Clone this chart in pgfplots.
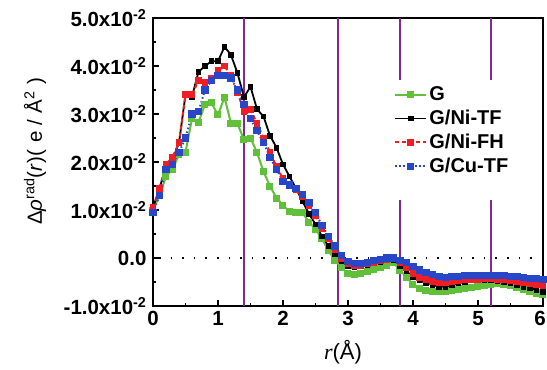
\documentclass[border=0pt]{standalone}
\usepackage{pgfplots}
\usepackage{pgfplotstable}
\pgfplotsset{compat=1.18}
\usepackage{fontspec}
\setmainfont{Liberation Sans}
\newfontfamily\seriffont{Liberation Serif}
\definecolor{cG}{RGB}{96,192,58}
\definecolor{cR}{RGB}{238,30,36}
\definecolor{cB}{RGB}{40,70,200}
\definecolor{cP}{RGB}{128,40,150}

\pgfplotstableread{
r    G       NiTF     NiFH     CuTF
0.0  0.0100  0.0105   0.0105   0.0095
0.1  0.0130  0.0145   0.0145   0.0130
0.2  0.0170  0.0190   0.0195   0.0185
0.3  0.0185  0.0205   0.0210   0.0195
0.4  0.0215  0.0240   0.0240   0.0220
0.5  0.0220  0.0340   0.0340   0.0250
0.6  0.0290  0.0336   0.0340   0.0300
0.7  0.0283  0.0388   0.0370   0.0305
0.8  0.0320  0.0400   0.0365   0.0350
0.9  0.0323  0.0410   0.0375   0.0370
1.0  0.0298  0.0410   0.0390   0.0380
1.1  0.0335  0.0440   0.0400   0.0380
1.2  0.0280  0.0423   0.0380   0.0375
1.3  0.0280  0.0385   0.0345   0.0350
1.4  0.0246  0.0335   0.0305   0.0320
1.5  0.0250  0.0357   0.0310   0.0290
1.6  0.0220  0.0310   0.0280   0.0265
1.7  0.0180  0.0295   0.0250   0.0240
1.8  0.0150  0.0255   0.0220   0.0210
1.9  0.0125  0.0230   0.0190   0.0185
2.0  0.0110  0.0195   0.0165   0.0160
2.1  0.0096  0.0170   0.0152   0.0152
2.2  0.0095  0.0145   0.0142   0.0145
2.3  0.0094  0.0118   0.0128   0.0132
2.4  0.0075  0.0092   0.0110   0.0115
2.5  0.0060  0.0070   0.0088   0.0095
2.6  0.0040  0.0045   0.0062   0.0068
2.7  0.0015  0.0025   0.0040   0.0045
2.8  -0.0005 0.0008   0.0018   0.0025
2.9  -0.0020 -0.0007  -0.0002  0.0005
3.0  -0.0033 -0.0016  -0.0012  -0.0007
3.1  -0.0035 -0.0019  -0.0016  -0.0012
3.2  -0.0033 -0.0017  -0.0015  -0.0011
3.3  -0.0028 -0.0014  -0.0012  -0.0009
3.4  -0.0024 -0.0011  -0.0009  -0.0006
3.5  -0.0020 -0.0008  -0.0006  -0.0003
3.6  -0.0015 -0.0005  -0.0003  0.0000
3.7  -0.0010 -0.0004  -0.0002  0.0000
3.8  -0.0025 -0.0017  -0.0010  -0.0005
3.9  -0.0040 -0.0027  -0.0020  -0.0010
4.0  -0.0055 -0.0040  -0.0032  -0.0017
4.1  -0.0063 -0.0047  -0.0040  -0.0025
4.2  -0.0068 -0.0052  -0.0045  -0.0030
4.3  -0.0070 -0.0056  -0.0049  -0.0035
4.4  -0.0070 -0.0060  -0.0051  -0.0038
4.5  -0.0070 -0.0060  -0.0051  -0.0040
4.6  -0.0068 -0.0057  -0.0049  -0.0039
4.7  -0.0066 -0.0053  -0.0047  -0.0038
4.8  -0.0064 -0.0050  -0.0046  -0.0037
4.9  -0.0062 -0.0047  -0.0045  -0.0037
5.0  -0.0060 -0.0046  -0.0044  -0.0036
5.1  -0.0058 -0.0046  -0.0043  -0.0036
5.2  -0.0056 -0.0046  -0.0043  -0.0036
5.3  -0.0054 -0.0048  -0.0044  -0.0037
5.4  -0.0055 -0.0050  -0.0045  -0.0037
5.5  -0.0058 -0.0053  -0.0047  -0.0038
5.6  -0.0062 -0.0057  -0.0049  -0.0039
5.7  -0.0066 -0.0060  -0.0051  -0.0040
5.8  -0.0070 -0.0063  -0.0053  -0.0042
5.9  -0.0074 -0.0066  -0.0055  -0.0043
6.0  -0.0077 -0.0070  -0.0057  -0.0045
}\datatable

\begin{document}
\begin{tikzpicture}
\useasboundingbox (-153pt,-64pt) rectangle (394pt,306pt);
\begin{axis}[
  at={(0,0)}, anchor=south west,
  scale only axis, width=390pt, height=288pt,
  xmin=0, xmax=6, ymin=-0.01, ymax=0.05,
  xtick={0,1,2,3,4,5,6}, xticklabels={0,1,2,3,4,5,{\hspace*{-6pt}6}},
  minor x tick num=1,
  ytick={-0.01,0,0.01,0.02,0.03,0.04,0.05},
  yticklabels={-1.0x10\textsuperscript{-2},0.0,1.0x10\textsuperscript{-2},2.0x10\textsuperscript{-2},3.0x10\textsuperscript{-2},4.0x10\textsuperscript{-2},5.0x10\textsuperscript{-2}},
  minor y tick num=1,
  scaled y ticks=false,
  xtick pos=bottom, ytick pos=left,
  tick align=inside,
  major tick length=6pt, minor tick length=3.5pt,
  every tick/.style={line width=1.5pt, black},
  axis line style={line width=1.5pt},
  ticklabel style={font=\fontsize{20.5}{24}\selectfont\bfseries},
  yticklabel style={xshift=-3pt},
  xticklabel style={yshift=-2pt},
  legend style={at={(0.61,0.775)}, anchor=north west, draw=none, fill=none,
    font=\fontsize{20}{23}\selectfont\bfseries, row sep=4pt},
  legend cell align=left,
  legend image code/.code={\draw[mark repeat=2,mark phase=2] plot coordinates {(0cm,0cm) (0.55cm,0cm) (1.1cm,0cm)};},
]
\draw[cP, line width=1.5pt] (axis cs:1.4,-0.01) -- (axis cs:1.4,0.05);
\draw[cP, line width=1.5pt] (axis cs:2.85,-0.01) -- (axis cs:2.85,0.05);
\draw[cP, line width=1.5pt] (axis cs:3.8,0.0371) -- (axis cs:3.8,0.05);
\draw[cP, line width=1.5pt] (axis cs:3.8,-0.01) -- (axis cs:3.8,0.0121);
\draw[cP, line width=1.5pt] (axis cs:5.2,0.0371) -- (axis cs:5.2,0.05);
\draw[cP, line width=1.5pt] (axis cs:5.2,-0.01) -- (axis cs:5.2,0.0121);
\addplot[forget plot, black, line width=1.6pt, dash pattern=on 1.6pt off 10pt, dash phase=-6pt] coordinates {(0,0) (6,0)};
\addplot[cG, line width=2pt, mark=square*, mark size=2.5pt, mark options={solid}] table[x=r,y=G] {\datatable};
\addlegendentry{G}
\addplot[black, line width=1.8pt, mark=square*, mark size=2pt, mark options={solid}] table[x=r,y=NiTF] {\datatable};
\addlegendentry{G/Ni-TF}
\addplot[cR, line width=2pt, dash pattern=on 4pt off 3pt, mark=square*, mark size=2.4pt, mark options={solid}] table[x=r,y=NiFH] {\datatable};
\addlegendentry{G/Ni-FH}
\addplot[cB, line width=2pt, dash pattern=on 1.5pt off 2.5pt, mark=square*, mark size=2.6pt, mark options={solid}] table[x=r,y=CuTF] {\datatable};
\addlegendentry{G/Cu-TF}
\end{axis}
\node[rotate=90, anchor=center, font=\fontsize{20.5}{24}\selectfont] at (-118pt,155pt) {Δ\textit{ρ}\textsuperscript{rad}(\textit{r})(\hspace{0.35em}e\hspace{0.3em}/\hspace{0.3em}Å\textsuperscript{2}\hspace{0.35em})};
\node[anchor=center, font=\fontsize{22}{26}\selectfont] at (190pt,-46pt) {{\seriffont\itshape r}(Å)};
\end{tikzpicture}
\end{document}
